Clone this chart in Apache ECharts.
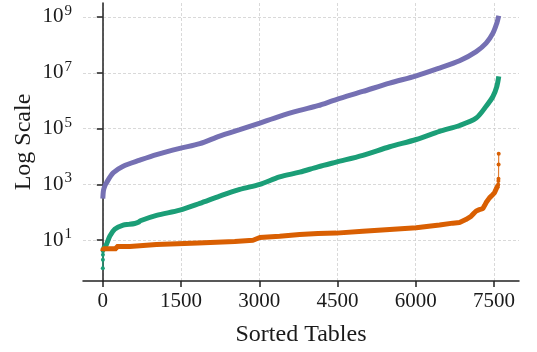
<!DOCTYPE html>
<html>
<head>
<meta charset="utf-8">
<script src="https://cdn.jsdelivr.net/npm/echarts@6/dist/echarts.min.js"></script>
<style>
html,body{margin:0;padding:0;background:#fff;}
#c{width:537px;height:352px;}
</style>
</head>
<body>
<div id="c"></div>
<script>
// ---- data (x = sorted table index, y = value) ----
var xTicks = [0, 1500, 3000, 4500, 6000, 7500];
var yTicks = [10, 1e3, 1e5, 1e7, 1e9];

var purpleX = [0, 10, 30, 70, 200, 390, 710, 1030, 1475, 1860, 2240, 2625, 3010, 3390, 3775, 4125, 4475, 4985, 5500, 6010, 6456, 6840, 7160, 7350, 7480, 7555, 7592];
var purpleY = [310, 560, 800, 1150, 2600, 4500, 7400, 11700, 19500, 28800, 53700, 91000, 158000, 275000, 447000, 661000, 1.1e6, 2.14e6, 4.27e6, 7.76e6, 1.48e7, 2.69e7, 5.75e7, 1.15e8, 2.63e8, 6.03e8, 1.1e9];

var greenHeadX = [0, 1, 2, 3, 4];
var greenHeadY = [1, 2, 3, 4, 5];
var greenX = [4, 57, 134, 230, 390, 500, 613, 680, 720, 1030, 1475, 1860, 2240, 2625, 3010, 3390, 3775, 4125, 4475, 4985, 5500, 6010, 6456, 6840, 7160, 7350, 7480, 7555, 7592];
var greenY = [5, 6.3, 14, 25, 35, 37, 40, 44, 50, 78, 120, 210, 380, 660, 1000, 1860, 2750, 4270, 6300, 11000, 22400, 40700, 79400, 129000, 240000, 631000, 1.41e6, 3.24e6, 7.4e6];

var orangeX = [0, 5, 262, 263, 517, 518, 1029, 1030, 1826, 1827, 2529, 2530, 2880, 3010, 3390, 3775, 4125, 4475, 4985, 5500, 6010, 6250, 6456, 6710, 6840, 6960, 7060, 7120, 7160, 7220, 7285, 7320, 7350, 7414, 7470, 7510, 7553, 7575];
var orangeY = [4, 5, 5, 6, 6, 7, 7, 8, 8, 9, 9, 10, 10, 12.5, 14, 16, 17.4, 18, 21, 24.5, 28, 32, 35, 41, 43, 55, 72, 95, 112, 125, 135, 175, 224, 330, 420, 500, 760, 900];
var orangeTailX = [7575, 7580, 7585, 7587, 7589, 7591];
var orangeTailY = [900, 1000, 1320, 1585, 5130, 12600];

function pairs(xs, ys) { return xs.map(function (x, i) { return [x, ys[i]]; }); }

var FONT = 'Liberation Serif';
var TXT = '#1a1a1a';
var PURPLE = '#7570b3', GREEN = '#1b9e77', ORANGE = '#d95f02';

var chart = echarts.init(document.getElementById('c'), null, {renderer: 'canvas'});
chart.setOption({
  animation: false,
  backgroundColor: '#ffffff',
  grid: {left: 83, right: 18, top: 3, bottom: 70, containLabel: false},
  xAxis: {
    type: 'value',
    min: -380, max: 7980,
    name: 'Sorted Tables', nameLocation: 'middle', nameGap: 42,
    nameTextStyle: {fontFamily: FONT, fontSize: 24, color: TXT},
    axisLine: {show: true, lineStyle: {color: '#222', width: 1.5}},
    axisTick: {show: true, inside: false, length: 6, customValues: xTicks, lineStyle: {color: '#222', width: 1.5}},
    axisLabel: {customValues: xTicks, margin: 10, fontFamily: FONT, fontSize: 21, color: TXT,
      formatter: function (v) { return String(v); }},
    splitLine: {show: true, lineStyle: {color: '#cfcfcf', width: 0.8, type: [3, 2]}}
  },
  yAxis: {
    type: 'log',
    logBase: 10,
    min: Math.pow(10, -0.46), max: Math.pow(10, 9.5),
    name: 'Log Scale', nameLocation: 'middle', nameGap: 47, nameRotate: 90,
    nameMoveOverlap: false,
    nameTextStyle: {fontFamily: FONT, fontSize: 24, color: TXT},
    axisLine: {show: true, lineStyle: {color: '#222', width: 1.5}},
    axisTick: {show: true, inside: false, length: 6, customValues: yTicks, lineStyle: {color: '#222', width: 1.5}},
    axisLabel: {
      customValues: yTicks, margin: 11,
      formatter: function (v) { return '{b|10}{s|' + Math.round(Math.log10(v)) + '}'; },
      rich: {
        b: {fontFamily: FONT, fontSize: 21, color: TXT},
        s: {fontFamily: FONT, fontSize: 15, color: TXT, padding: [0, 0, 12, 1]}
      }
    },
    splitLine: {show: true, lineStyle: {color: '#cfcfcf', width: 0.8, type: [3, 2]}}
  },
  series: [
    {type: 'line', data: pairs(purpleX, purpleY), showSymbol: false, symbol: 'none', smooth: 0.3, lineStyle: {color: PURPLE, width: 5}, z: 3},
    {type: 'line', data: pairs(greenHeadX, greenHeadY), symbol: 'circle', symbolSize: 4, showAllSymbol: true, itemStyle: {color: GREEN}, lineStyle: {color: GREEN, width: 1.2}, z: 3},
    {type: 'line', data: pairs(greenX, greenY), showSymbol: false, symbol: 'none', smooth: 0.3, lineStyle: {color: GREEN, width: 5}, z: 3},
    {type: 'line', data: pairs(orangeX, orangeY), showSymbol: false, symbol: 'none', lineStyle: {color: ORANGE, width: 5}, z: 4},
    {type: 'line', data: pairs(orangeTailX, orangeTailY), symbol: 'circle', symbolSize: 4, showAllSymbol: true, itemStyle: {color: ORANGE}, lineStyle: {color: ORANGE, width: 1.2, opacity: 0.8}, z: 4}
  ]
});
</script>
</body>
</html>
